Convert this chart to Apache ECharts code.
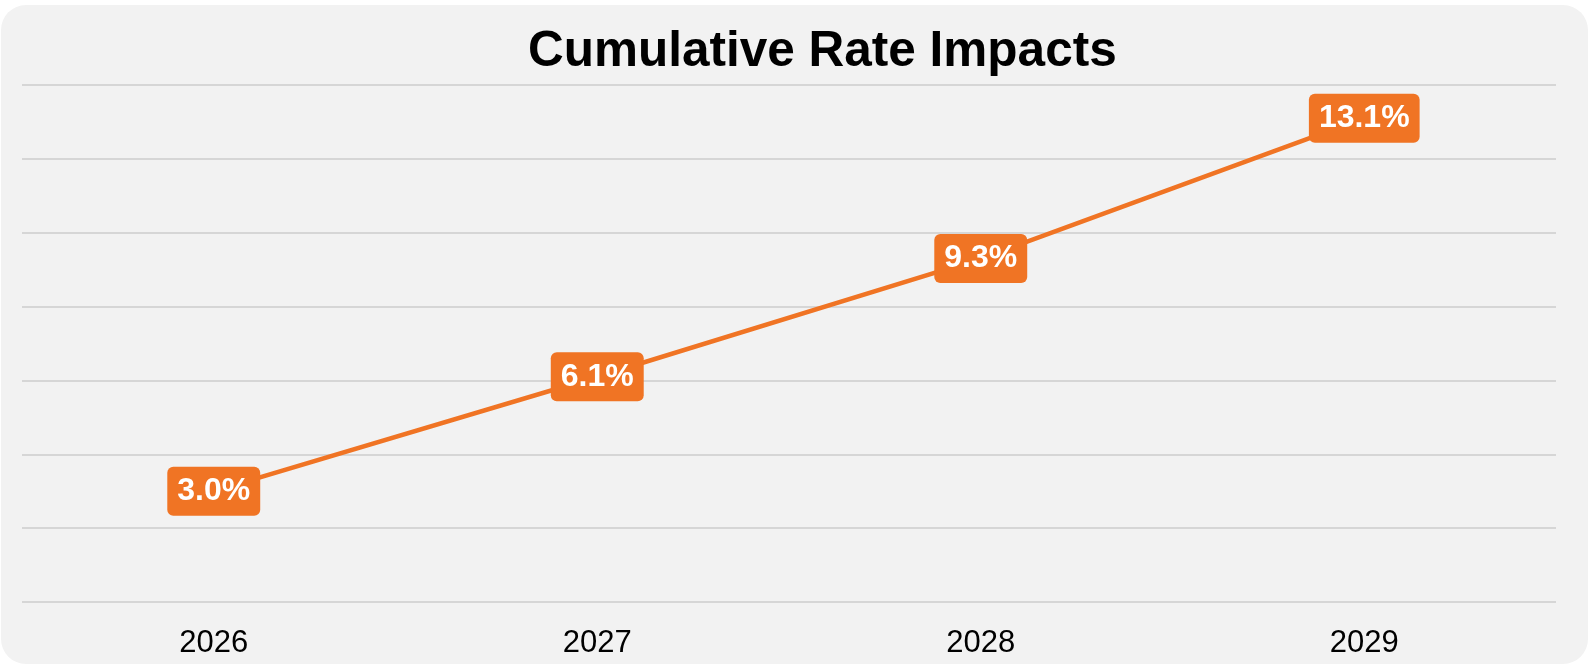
<!DOCTYPE html>
<html>
<head>
<meta charset="utf-8">
<script src="https://cdn.jsdelivr.net/npm/echarts@6/dist/echarts.min.js"></script>
<style>
  html, body { margin: 0; padding: 0; background: #ffffff; width: 1588px; height: 664px; overflow: hidden; }
  #panel { position: absolute; left: 1px; top: 5px; width: 1587px; height: 659px; background: #f2f2f2; border-radius: 25px; }
  #chart { position: absolute; left: 0; top: 0; width: 1588px; height: 664px; }
</style>
</head>
<body>
<div id="panel"></div>
<div id="chart"></div>
<script>
// Cumulative rate impact by year (percent)
const years = ['2026', '2027', '2028', '2029'];
const cumulativeImpact = [3.0, 6.1, 9.3, 13.1];

const ORANGE = '#f07424';
const FONT = '"Liberation Sans", Arial, Helvetica, sans-serif';

const chart = echarts.init(document.getElementById('chart'));
chart.setOption({
  animation: false,
  backgroundColor: 'transparent',
  title: {
    text: 'Cumulative Rate Impacts',
    left: 523,
    top: 22,
    textStyle: { fontFamily: FONT, fontSize: 49.5, fontWeight: 'bold', color: '#000000' }
  },
  grid: { left: 22, right: 32, top: 85, bottom: 62 },
  xAxis: {
    type: 'category',
    data: years,
    boundaryGap: true,
    axisLine: { show: false },
    axisTick: { show: false },
    axisLabel: { fontFamily: FONT, fontSize: 31, color: '#000000', margin: 26 }
  },
  yAxis: {
    type: 'value',
    min: 0,
    max: 14,
    interval: 2,
    axisLabel: { show: false },
    axisLine: { show: false },
    axisTick: { show: false },
    splitLine: { lineStyle: { color: '#d6d6d6', width: 2 } }
  },
  series: [{
    type: 'line',
    data: cumulativeImpact,
    symbol: 'circle',
    symbolSize: 6,
    itemStyle: { color: ORANGE },
    lineStyle: { color: ORANGE, width: 4.5 },
    label: {
      show: true,
      position: 'inside',
      formatter: p => p.value.toFixed(1) + '%',
      fontFamily: FONT,
      fontSize: 32,
      fontWeight: 'bold',
      color: '#ffffff',
      backgroundColor: ORANGE,
      padding: [9, 10, 8, 10],
      borderRadius: 6
    }
  }]
});
</script>
</body>
</html>
